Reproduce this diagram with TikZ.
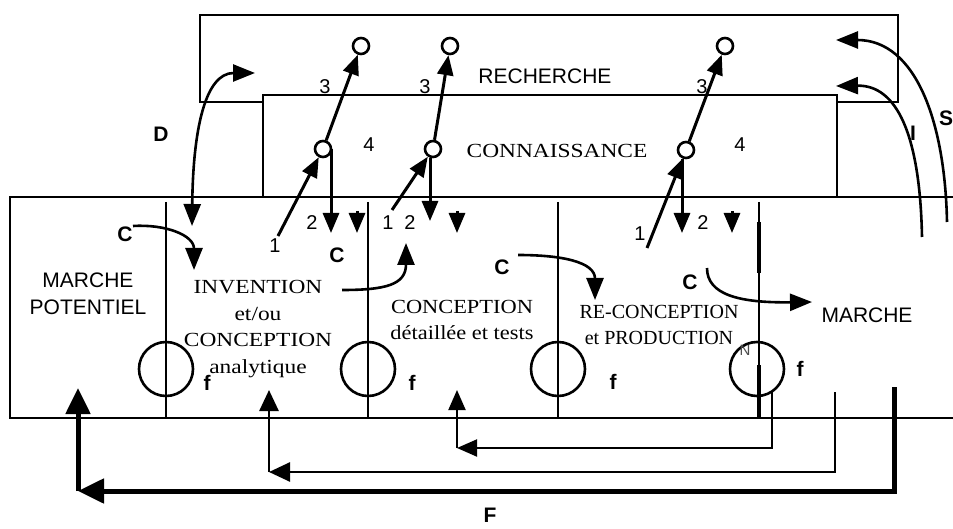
\documentclass[tikz,border=0pt]{standalone}
\usepackage{fontspec}
\setmainfont{Liberation Sans}
\newfontfamily\serf{Liberation Serif}
\newfontfamily\serfw[FakeStretch=1.17]{Liberation Serif}
\newfontfamily\serfm[FakeStretch=1.12]{Liberation Serif}
\usetikzlibrary{arrows.meta}
\begin{document}
\begin{tikzpicture}[x=1pt,y=-1pt,
  box/.style={draw, line width=2pt},
  boxw/.style={draw, line width=2pt, fill=white},
  divl/.style={line width=2pt},
  diag/.style={line width=3pt, -{Triangle[length=20pt,width=16pt]}},
  curv/.style={line width=2.6pt, -{Triangle[length=22pt,width=17pt]}},
  curvb/.style={line width=2.6pt, {Triangle[length=22pt,width=17pt]}-{Triangle[length=22pt,width=17pt]}},
  ret/.style={line width=2pt, -{Triangle[length=20pt,width=17pt]}},
  retm/.style={line width=2.6pt, -{Triangle[length=21pt,width=19pt]}},
  retbig/.style={line width=5pt, -{Triangle[length=26pt,width=24pt]}},
  sc/.style={circle, draw, line width=2.6pt, minimum size=16pt, inner sep=0pt},
  bc/.style={circle, draw, line width=2.6pt, minimum size=54pt, inner sep=0pt},
  sans/.style={font=\fontsize{21}{27}\selectfont, align=center, inner sep=0pt},
  serif/.style={font=\serf\fontsize{20}{26.5}\selectfont, align=center, inner sep=0pt},
  num/.style={font=\fontsize{20}{20}\selectfont, inner sep=0pt},
  lab/.style={font=\bfseries\fontsize{21}{21}\selectfont, inner sep=0pt},
]
\useasboundingbox (0,0) rectangle (953,529);

% frames
\draw[box] (200,15) rectangle (898,102);
\draw[boxw] (263,95) rectangle (837,197);
\draw[box] (970,197) -- (10,197) -- (10,418) -- (970,418);

% dividers
\draw[divl] (166,202) -- (166,418);
\draw[divl] (368,202) -- (368,418);
\draw[divl] (558,202) -- (558,418);
\draw[divl] (759,202) -- (759,418);
\draw[line width=3.5pt] (759,222) -- (759,273);
\draw[line width=3.5pt] (759,365) -- (759,418);

% big circles
\node[bc] (f1) at (166,369) {};
\node[bc] (f2) at (368,369) {};
\node[bc] (f3) at (558,369) {};
\node[bc] (f4) at (757,369) {};

% texts
\node[sans] (rech) at (545,76) {RECHERCHE};
\node[serif, font=\serfw\fontsize{20}{26.5}\selectfont] (conn) at (557,151) {CONNAISSANCE};
\node[sans] (mp) at (88,294) {MARCHE\\POTENTIEL};
\node[serif, font=\serfw\fontsize{20}{26.5}\selectfont] (inv) at (258,329) {INVENTION\\et/ou\\CONCEPTION\\analytique};
\node[serif, font=\serfm\fontsize{20}{26.5}\selectfont] (conc) at (462,320) {CONCEPTION\\détaillée et tests};
\node[serif] (reco) at (659,325) {RE-CONCEPTION\\et PRODUCTION};
\node[sans] (mar) at (867,315) {MARCHE};

\node[num] (n3a) at (325,87) {3};
\node[num] (n3b) at (425,87) {3};
\node[num] (n3c) at (702,87) {3};
\node[num] (n4a) at (369,145) {4};
\node[num] (n4b) at (740,145) {4};
\node[num] (n1a) at (275,246) {1};
\node[num] (n2a) at (312,223) {2};
\node[num] (n1b) at (388,223) {1};
\node[num] (n2b) at (410,223) {2};
\node[num] (n1c) at (640,234) {1};
\node[num] (n2c) at (703,223) {2};

\node[lab] (lD) at (161,134) {D};
\node[lab] (lI) at (913,133) {I};
\node[lab] (lS) at (946,118) {S};
\node[lab] (lF) at (490,515) {F};
\node[lab] (lC1) at (125,234) {C};
\node[lab] (lC2) at (337,255) {C};
\node[lab] (lC3) at (502,267) {C};
\node[lab] (lC4) at (690,282) {C};
\node[lab] (lf1) at (207,383) {f};
\node[lab] (lf2) at (412,383) {f};
\node[lab] (lf3) at (613,382) {f};
\node[lab] (lf4) at (800,369) {f};
\node[font=\fontsize{15}{15}\selectfont, text=black!70, inner sep=0pt] (lN) at (745,350) {N};

% small circles
\node[sc, fill=white] (k1) at (323,149) {};
\node[sc, fill=white] (k2) at (433,149) {};
\node[sc, fill=white] (k3) at (686,150) {};
\node[sc, fill=white] (r1) at (361,46) {};
\node[sc, fill=white] (r2) at (450,46) {};
\node[sc, fill=white] (r3) at (725,46) {};

% diagonal arrows
\coordinate (a1) at (278,236);
\coordinate (a2) at (392,210);
\coordinate (a3) at (647,248);
\draw[diag] (a1) -- (k1);
\draw[diag] (k1) -- (r1);
\draw[diag] (a2) -- (k2);
\draw[diag] (k2) -- (r2);
\draw[diag] (a3) -- (k3);
\draw[diag] (k3) -- (r3);

% down arrows from knowledge circles
\coordinate (t1) at (331,233);
\coordinate (t2) at (430,221);
\coordinate (t3) at (682,233);
\draw[diag] (t1 |- k1.east) -- (t1);
\draw[diag] (t2 |- k2.south) -- (t2);
\draw[diag] (t3 |- k3.south) -- (t3);

% standalone arrowheads
\coordinate (h1s) at (357,211); \coordinate (h1) at (357,233);
\coordinate (h2s) at (457,211); \coordinate (h2) at (457,233);
\coordinate (h3s) at (732,211); \coordinate (h3) at (732,233);
\draw[diag] (h1s) -- (h1);
\draw[diag] (h2s) -- (h2);
\draw[diag] (h3s) -- (h3);

% curved arrows
\coordinate (d1) at (192,226); \coordinate (d2) at (255,73);
\draw[curvb] (d1) .. controls (193,130) and (205,73) .. (d2);
\coordinate (c1s) at (133,226); \coordinate (c1e) at (194,270);
\draw[curv] (c1s) .. controls (165,224) and (194,235) .. (c1e);
\coordinate (c2s) at (342,290); \coordinate (c2e) at (406,243);
\draw[curv] (c2s) .. controls (385,290) and (406,285) .. (c2e);
\coordinate (c3s) at (518,255); \coordinate (c3e) at (595,300);
\draw[curv] (c3s) .. controls (562,255) and (595,262) .. (c3e);
\coordinate (c4s) at (707,268); \coordinate (c4e) at (812,302);
\draw[curv] (c4s) .. controls (707,295) and (740,303) .. (c4e);
\coordinate (is) at (922,237); \coordinate (ie) at (836,86);
\draw[curv] (is) .. controls (920,135) and (897,85) .. (ie);
\coordinate (ss) at (947,222); \coordinate (se) at (836,40);
\draw[curv] (ss) .. controls (945,120) and (915,40) .. (se);

% return arrows
\coordinate (s0) at (772,392); \coordinate (sc) at (457,448); \coordinate (st) at (457,390);
\draw[ret] (s0) |- (sc);
\draw[ret] (sc) -- (st);
\coordinate (m0) at (835,392); \coordinate (mc) at (269,472); \coordinate (mt) at (269,390);
\draw[retm] (m0) |- (mc);
\draw[retm] (mc) -- (mt);
\coordinate (b0) at (894,387); \coordinate (bcn) at (78,491); \coordinate (bt) at (78,388);
\draw[retbig] (b0) |- (bcn);
\draw[retbig] (bcn) -- (bt);
\end{tikzpicture}
\end{document}
